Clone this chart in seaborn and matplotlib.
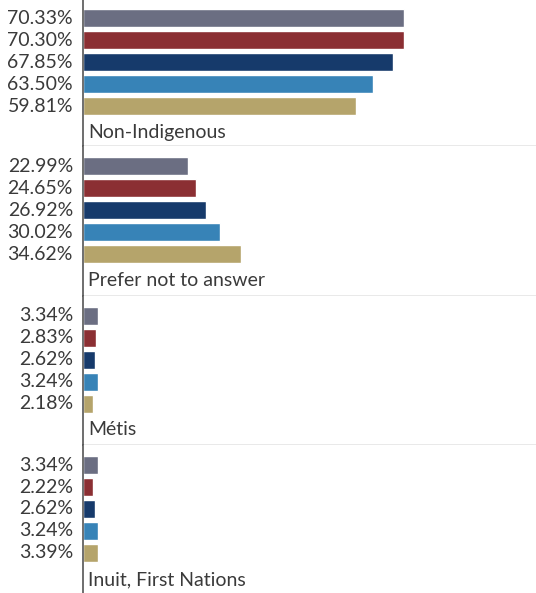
import matplotlib
matplotlib.use("Agg")
import matplotlib.pyplot as plt
import seaborn as sns
import pandas as pd

# Response groups and the five series shown for each
groups = ["Non-Indigenous", "Prefer not to answer", "Métis", "Inuit, First Nations"]
series = ["S1", "S2", "S3", "S4", "S5"]
values = {
    "Non-Indigenous": [70.33, 70.30, 67.85, 63.50, 59.81],
    "Prefer not to answer": [22.99, 24.65, 26.92, 30.02, 34.62],
    "Métis": [3.34, 2.83, 2.62, 3.24, 2.18],
    "Inuit, First Nations": [3.34, 2.22, 2.62, 3.24, 3.39],
}
colors = ["#6b6e82", "#8b2f33", "#163a6b", "#3783b7", "#b5a46b"]

sns.set_theme(style="white")
plt.rcParams["font.family"] = ["Lato", "DejaVu Sans"]

W, H = 536, 593
fig = plt.figure(figsize=(W / 100, H / 100), dpi=100)

left_px = 83
panel_h = 149.5
top0 = -3.5
pitch = 22.0  # px per bar slot
xmax = (W - left_px) / ((404 - left_px) / 70.33)
text_color = "#3a3a3a"

for k, g in enumerate(groups):
    top = top0 + panel_h * k
    ax = fig.add_axes([left_px / W, 1 - (top + panel_h) / H, 1 - left_px / W, panel_h / H])
    df = pd.DataFrame({"series": series, "value": values[g]})
    sns.barplot(data=df, x="value", y="series", hue="series", palette=colors,
                orient="h", width=18 / 22, legend=False, ax=ax, saturation=1)
    first = (18 - top0) / pitch if k == 0 else 20 / pitch
    span = panel_h / pitch
    ax.set_ylim(-first + span, -first)
    ax.set_xlim(0, xmax)
    ax.set_xticks([])
    ax.set_yticks([])
    ax.set_xlabel("")
    ax.set_ylabel("")
    for side in ["top", "right"]:
        ax.spines[side].set_visible(False)
    ax.spines["left"].set_color("#555555")
    ax.spines["left"].set_linewidth(1.2)
    if k < len(groups) - 1:
        ax.spines["bottom"].set_color("#555555")
        ax.spines["bottom"].set_linewidth(0.9)
    else:
        ax.spines["bottom"].set_visible(False)
    for i, v in enumerate(values[g]):
        ax.annotate(f"{v:.2f}%", xy=(0, i), xytext=(-10, 0), textcoords="offset pixels",
                    ha="right", va="center", fontsize=14, color=text_color,
                    annotation_clip=False)
    ax.annotate(g, xy=(0, 5.2), xytext=(5, 0), textcoords="offset pixels",
                ha="left", va="center", fontsize=14, color=text_color, annotation_clip=False)

fig.savefig("out.png", dpi=100)
